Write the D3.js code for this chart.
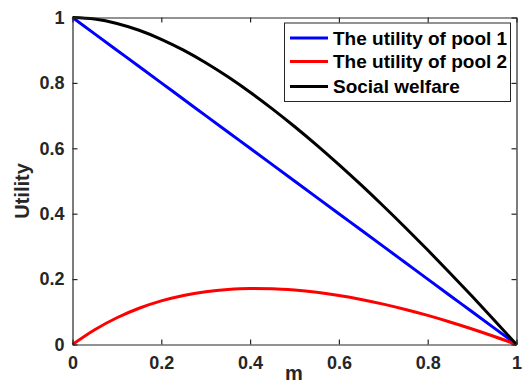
<!DOCTYPE html>
<html>
<head>
<meta charset="utf-8">
<script src="https://cdn.jsdelivr.net/npm/d3@7"></script>
<style>
  html, body { margin: 0; padding: 0; background: #fff; }
  svg { display: block; font-family: "Liberation Sans", Arial, sans-serif; font-weight: bold; }
</style>
</head>
<body>
<svg id="chart" width="523" height="385"></svg>
<script>
// Sample positions along m
const mValues = [0, 0.05, 0.1, 0.15, 0.2, 0.25, 0.3, 0.35, 0.4, 0.45, 0.5,
                 0.55, 0.6, 0.65, 0.7, 0.75, 0.8, 0.85, 0.9, 0.95, 1];
// Utility of pool 1
const pool1 = [1, 0.95, 0.9, 0.85, 0.8, 0.75, 0.7, 0.65, 0.6, 0.55, 0.5,
               0.45, 0.4, 0.35, 0.3, 0.25, 0.2, 0.15, 0.1, 0.05, 0];
// Utility of pool 2
const pool2 = [0, 0.0452, 0.0818, 0.1109, 0.1333, 0.15, 0.1615, 0.1685, 0.1714, 0.1707, 0.1667,
               0.1597, 0.15, 0.1379, 0.1235, 0.1071, 0.0889, 0.0689, 0.0474, 0.0244, 0];
// Social welfare
const welfare = [1, 0.9952, 0.9818, 0.9609, 0.9333, 0.9, 0.8615, 0.8185, 0.7714, 0.7207, 0.6667,
                 0.6097, 0.55, 0.4879, 0.4235, 0.3571, 0.2889, 0.2189, 0.1474, 0.0744, 0];

const xTicks = [0, 0.2, 0.4, 0.6, 0.8, 1];
const yTicks = [0, 0.2, 0.4, 0.6, 0.8, 1];
const seriesNames = ["The utility of pool 1", "The utility of pool 2", "Social welfare"];
const seriesColors = ["#0000ff", "#ff0000", "#000000"];
const seriesData = [pool1, pool2, welfare];

const svg = d3.select("#chart");
const plotL = 72.5, plotR = 516.5, plotT = 17.5, plotB = 344.5;
const axisColor = "#262626";

const x = d3.scaleLinear().domain([0, 1]).range([plotL, plotR]);
const y = d3.scaleLinear().domain([0, 1]).range([plotB, plotT]);

// Series lines
const line = d3.line()
  .x((d, i) => x(mValues[i]))
  .y(d => y(d))
  .curve(d3.curveMonotoneX);

svg.append("g")
  .selectAll("path")
  .data(seriesData)
  .join("path")
  .attr("d", d => line(d))
  .attr("fill", "none")
  .attr("stroke", (d, i) => seriesColors[i])
  .attr("stroke-width", 3)
  .attr("stroke-linejoin", "round");

// Axes (ticks pointing inward, box closed by mirrored top/right axes)
function styleAxis(g) {
  g.selectAll("path.domain").attr("stroke", axisColor).attr("stroke-width", 1.2);
  g.selectAll(".tick line").attr("stroke", axisColor).attr("stroke-width", 1.2);
  g.selectAll(".tick text").attr("fill", axisColor)
    .style("font-size", "18px").style("font-weight", "bold")
    .style("font-family", '"Liberation Sans", Arial, sans-serif');
}

const fmt = d => String(d);

svg.append("g")
  .attr("transform", `translate(0,${plotB})`)
  .call(d3.axisBottom(x).tickValues(xTicks).tickFormat(fmt).tickSizeInner(-5).tickSizeOuter(0).tickPadding(12))
  .call(styleAxis);

svg.append("g")
  .attr("transform", `translate(0,${plotT})`)
  .call(d3.axisTop(x).tickValues(xTicks).tickFormat("").tickSizeInner(-5).tickSizeOuter(0))
  .call(styleAxis);

svg.append("g")
  .attr("transform", `translate(${plotL},0)`)
  .call(d3.axisLeft(y).tickValues(yTicks).tickFormat(fmt).tickSizeInner(-5).tickSizeOuter(0).tickPadding(8))
  .call(styleAxis);

svg.append("g")
  .attr("transform", `translate(${plotR},0)`)
  .call(d3.axisRight(y).tickValues(yTicks).tickFormat("").tickSizeInner(-5).tickSizeOuter(0))
  .call(styleAxis);

// Axis titles
svg.append("text")
  .attr("x", 294)
  .attr("y", 380)
  .attr("text-anchor", "middle")
  .attr("fill", axisColor)
  .style("font-size", "20px")
  .text("m");

svg.append("text")
  .attr("transform", `translate(29,191) rotate(-90)`)
  .attr("text-anchor", "middle")
  .attr("fill", axisColor)
  .style("font-size", "20px")
  .text("Utility");

// Legend
const legend = svg.append("g");
legend.append("rect")
  .attr("x", 284.5).attr("y", 23)
  .attr("width", 226).attr("height", 78.5)
  .attr("fill", "#fff")
  .attr("stroke", axisColor)
  .attr("stroke-width", 1);

const rowY = [38, 61.5, 86.5];
const items = legend.selectAll("g.item")
  .data(seriesNames)
  .join("g")
  .attr("class", "item")
  .attr("transform", (d, i) => `translate(0,${rowY[i]})`);

items.append("line")
  .attr("x1", 290).attr("x2", 328)
  .attr("stroke", (d, i) => seriesColors[i])
  .attr("stroke-width", 3);

items.append("text")
  .attr("x", 333)
  .attr("dy", "0.35em")
  .attr("fill", "#000")
  .style("font-size", "19px")
  .text(d => d);
</script>
</body>
</html>
